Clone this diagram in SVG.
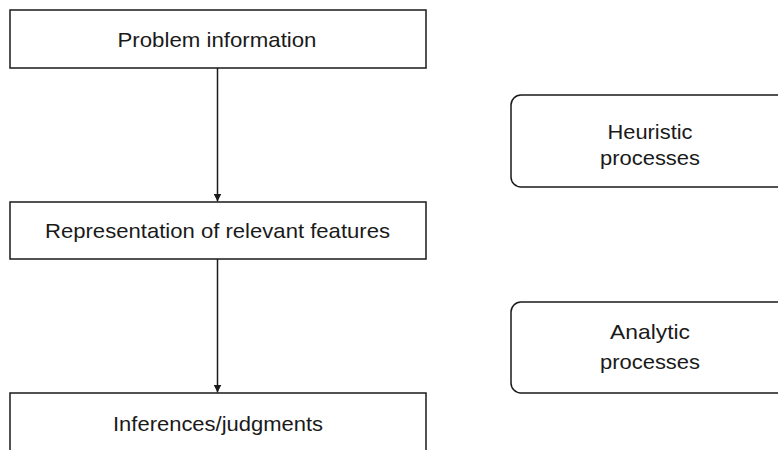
<svg xmlns="http://www.w3.org/2000/svg" width="778" height="450" viewBox="0 0 778 450">
<style>
.box{fill:#fff;stroke:#1a1a1a;stroke-width:1.5}
.t{font-family:"Liberation Sans",Arial,sans-serif;font-size:21px;fill:#1a1a1a;text-anchor:middle}
.c{stroke:#1a1a1a;stroke-width:1.5;fill:none}
</style>
<defs>
<marker id="ah" viewBox="0 0 10 10" refX="10" refY="5" markerWidth="8" markerHeight="8" markerUnits="userSpaceOnUse" orient="auto">
<path d="M0,0 L10,5 L0,10 Z" fill="#1a1a1a"/>
</marker>
</defs>
<rect width="778" height="450" fill="#fff"/>
<g id="connectors">
<line class="c" x1="217.5" y1="68" x2="217.5" y2="201.5" marker-end="url(#ah)"/>
<line class="c" x1="217.5" y1="259" x2="217.5" y2="392.5" marker-end="url(#ah)"/>
</g>
<g id="problem">
<rect class="box" x="10" y="10" width="416" height="58"/>
<text class="t" x="217" y="47" textLength="199" lengthAdjust="spacingAndGlyphs">Problem information</text>
</g>
<g id="representation">
<rect class="box" x="10" y="202" width="416" height="57"/>
<text class="t" x="217.5" y="238" textLength="345" lengthAdjust="spacingAndGlyphs">Representation of relevant features</text>
</g>
<g id="inferences">
<rect class="box" x="10" y="393" width="416" height="70"/>
<text class="t" x="218" y="430.5" textLength="210" lengthAdjust="spacingAndGlyphs">Inferences/judgments</text>
</g>
<g id="heuristic">
<rect class="box" x="511" y="95" width="290" height="92" rx="10" ry="10"/>
<text class="t" x="650" y="138.5" textLength="85" lengthAdjust="spacingAndGlyphs">Heuristic</text>
<text class="t" x="650" y="164.5" textLength="100" lengthAdjust="spacingAndGlyphs">processes</text>
</g>
<g id="analytic">
<rect class="box" x="511" y="302" width="290" height="91" rx="10" ry="10"/>
<text class="t" x="650" y="339" textLength="80" lengthAdjust="spacingAndGlyphs">Analytic</text>
<text class="t" x="650" y="369" textLength="100" lengthAdjust="spacingAndGlyphs">processes</text>
</g>
</svg>
